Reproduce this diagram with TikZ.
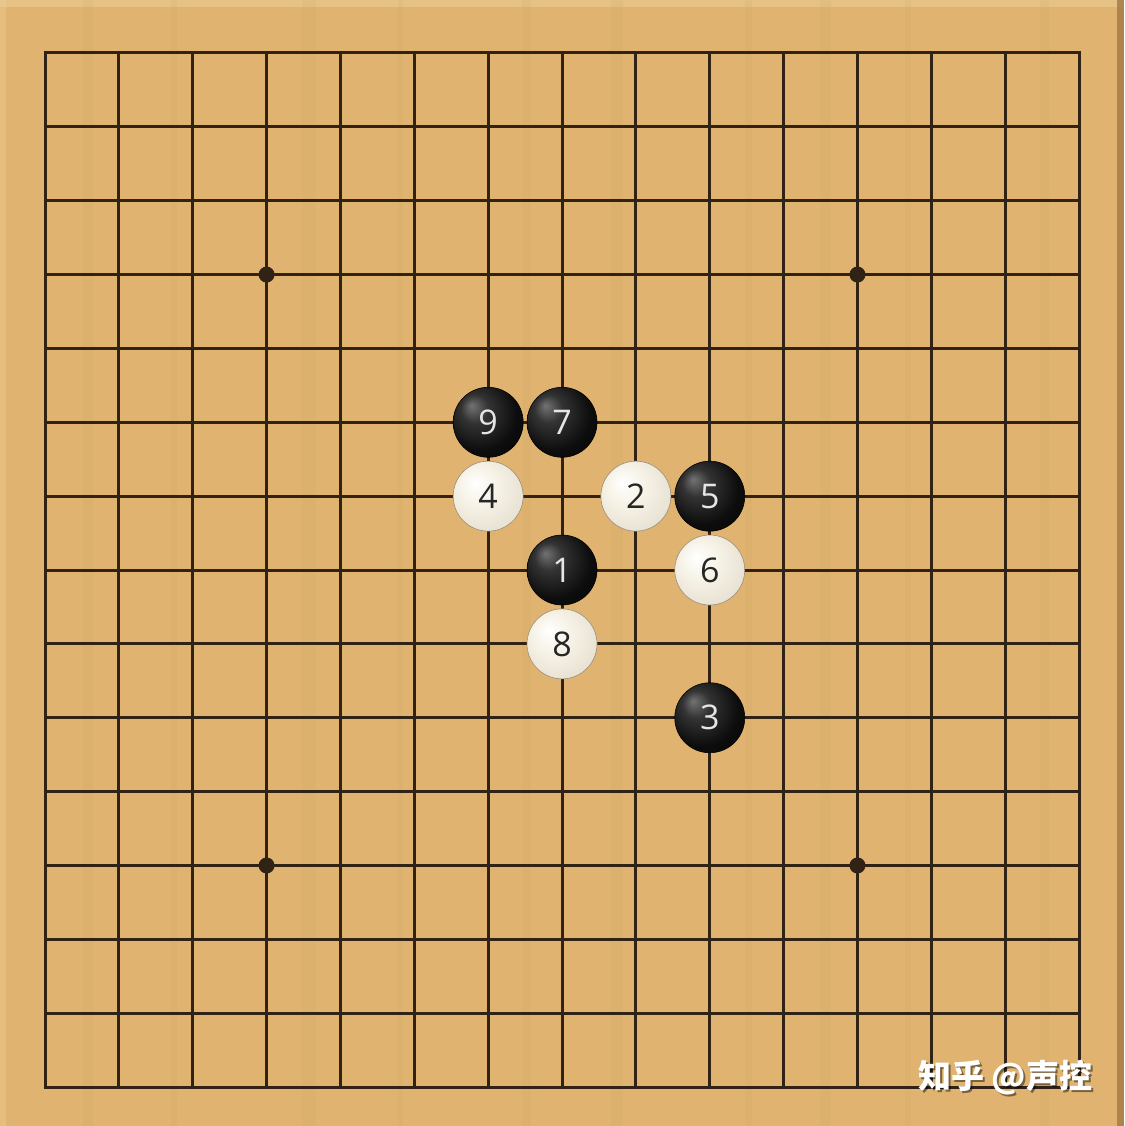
\documentclass[tikz,border=0pt]{standalone}
\usepackage{fontspec}
\setsansfont{Open Sans}
\newfontfamily\cjk{Noto Sans CJK SC}
\usetikzlibrary{positioning}
\definecolor{wood}{RGB}{224,180,112}
\definecolor{woodlight}{RGB}{236,204,150}
\definecolor{wooddark}{RGB}{150,112,62}
\definecolor{gridline}{RGB}{48,34,20}
\definecolor{stonecream}{RGB}{246,242,230}
\definecolor{stoneedge}{RGB}{190,178,154}
\pgfdeclareradialshading{blackball}{\pgfpoint{-12bp}{12bp}}{color(0bp)=(black!55); color(10bp)=(black!80); color(26bp)=(black!95); color(50bp)=(black)}
\pgfdeclareradialshading{whiteball}{\pgfpoint{-10bp}{10bp}}{color(0bp)=(white); color(14bp)=(stonecream); color(30bp)=(stonecream!75!stoneedge); color(50bp)=(stoneedge)}
\begin{document}
\begin{tikzpicture}[x=1pt, y=-1pt, line/.style={draw=gridline, line width=3pt}, every node/.style={font=\sffamily}]
% Define styles for stones, star points and the watermark
\tikzstyle{blackstone} = [circle, inner sep=0pt, minimum size=70pt, shading=blackball, draw=black, line width=0.6pt, text=white!90!black, font=\sffamily\fontsize{34}{34}\selectfont]
\tikzstyle{whitestone} = [circle, inner sep=0pt, minimum size=70pt, shading=whiteball, draw=stoneedge!80!black, line width=0.6pt, text=black!85, font=\sffamily\fontsize{34}{34}\selectfont]
\tikzstyle{star} = [circle, fill=gridline, inner sep=0pt, minimum size=16pt]
\tikzstyle{wmtext} = [font=\cjk\bfseries\fontsize{33}{33}\selectfont, inner sep=0pt]

% Board
\useasboundingbox (0,0) rectangle (1124,1126);
\fill[wood] (0,0) rectangle (1124,1126);
\fill[woodlight, opacity=0.6] (0,0) rectangle (1124,7);
\fill[woodlight, opacity=0.4] (0,0) rectangle (6,1126);
\fill[wooddark, opacity=0.7] (1117,0) rectangle (1124,1126);
\foreach \gx/\gw in {83/10, 171/6, 302/14, 398/5, 522/9, 611/12, 745/7, 820/11, 905/6, 1040/9}
  \fill[wooddark, opacity=0.05] (\gx,0) rectangle ++(\gw,1126);

\begin{scope}[shift={(45,53)}, x=73.86pt, y=-73.86pt]
% Grid lines
\foreach \i in {0,...,14} {
  \draw[line, line cap=rect] (\i,0) -- (\i,14);
  \draw[line, line cap=rect] (0,\i) -- (14,\i);
}

% Star points
\node[star] (starNW) at (3,3) {};
\node[star] (starNE) at (11,3) {};
\node[star] (starSW) at (3,11) {};
\node[star] (starSE) at (11,11) {};

% Stones in move order
\node[blackstone] (move1) at (7,7) {1};
\node[whitestone] (move2) at (8,6) {2};
\node[blackstone] (move3) at (9,9) {3};
\node[whitestone] (move4) at (6,6) {4};
\node[blackstone] (move5) at (9,6) {5};
\node[whitestone] (move6) at (9,7) {6};
\node[blackstone] (move7) at (7,5) {7};
\node[whitestone] (move8) at (7,8) {8};
\node[blackstone] (move9) at (6,5) {9};
\end{scope}

% Watermark
\node[wmtext, text=black, opacity=0.45, anchor=west] (markshadow) at (920,1080) {知乎 @声控};
\node[wmtext, text=white, anchor=west] (watermark) at (918,1078) {知乎 @声控};
\end{tikzpicture}
\end{document}
